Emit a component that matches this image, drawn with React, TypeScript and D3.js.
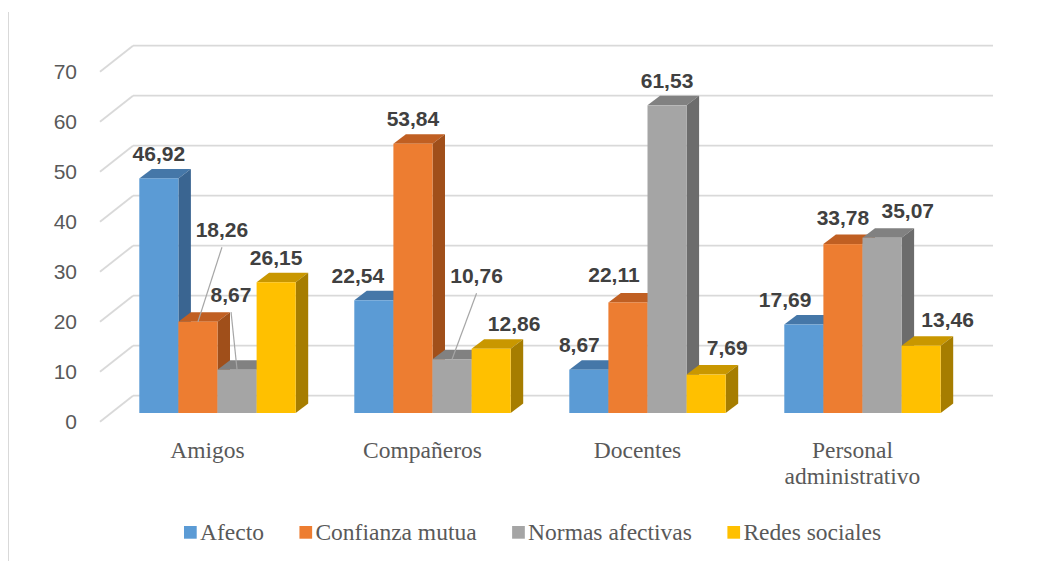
import React, { useMemo } from "react";
import * as d3 from "d3";

const categories = ["Amigos", "Compañeros", "Docentes", "Personal administrativo"];
const seriesNames = ["Afecto", "Confianza mutua", "Normas afectivas", "Redes sociales"];
const afecto = [46.92, 22.54, 8.67, 17.69];
const confianzaMutua = [18.26, 53.84, 22.11, 33.78];
const normasAfectivas = [8.67, 10.76, 61.53, 35.07];
const redesSociales = [26.15, 12.86, 7.69, 13.46];
const yTicks = [0, 10, 20, 30, 40, 50, 60, 70];

const seriesValues = [afecto, confianzaMutua, normasAfectivas, redesSociales];
const colors = ["#5b9bd5", "#ed7d31", "#a5a5a5", "#ffc000"];
const topColors = ["#4577a8", "#c05f22", "#818181", "#c99700"];
const sideColors = ["#3a6591", "#a04f1a", "#6c6c6c", "#a67d00"];

// label nudges [series][category] -> [dx, dy, leader]
const labelNudges: [number, number, boolean][][] = [
  [[0, 0, false], [-16, 0, false], [-9.5, 0, false], [-18.7, 0, false]],
  [[24, -67.5, true], [0, 0, false], [-14, -3, false], [0, -1.5, false]],
  [[-6, -50.5, true], [24.5, -59, true], [0, 0, false], [25.7, -2, false]],
  [[0, 0, false], [23, 0, false], [21, -2, false], [26.5, -1.5, false]],
];

const W = 1041;
const H = 561;
const FRONT_LEFT = 100;
const FRONT_RIGHT = 960;
const WALL_DX = 33;
const WALL_DY = -26;
const BAR_FRONT_DX = 10;
const BAR_FRONT_DY = -8.7;
const BAR_DEPTH_DX = 12.5;
const BAR_DEPTH_DY = -9.5;
const GROUP_W = 156.4;

const sansFont = "'Liberation Sans', Arial, sans-serif";
const serifFont = "'Liberation Serif', 'Times New Roman', 'DejaVu Serif', serif";

function measure(text: string, font: string) {
  if (typeof document === "undefined") return text.length * 10;
  const c = document.createElement("canvas");
  const ctx = c.getContext("2d");
  if (!ctx) return text.length * 10;
  ctx.font = font;
  return ctx.measureText(text).width;
}

export default function App() {
  const y = d3.scaleLinear().domain([0, 70]).range([421.7, 71.7]);
  const x = d3.scaleBand<string>().domain(categories).range([FRONT_LEFT, FRONT_RIGHT]);
  const inner = d3.scaleBand<string>().domain(seriesNames).range([0, GROUP_W]);
  const bw = inner.bandwidth();

  const legend = useMemo(() => {
    const font = `23.5px ${serifFont}`;
    const sw = 12.7;
    const gapText = 3.3;
    const gapItem = 35.5;
    const widths = seriesNames.map((s) => measure(s, font));
    let cx = 184;
    return seriesNames.map((s, i) => {
      const item = { name: s, x: cx, color: colors[i] };
      cx += sw + gapText + widths[i] + gapItem;
      return item;
    });
  }, []);

  const bars: React.ReactNode[] = [];
  const labels: React.ReactNode[] = [];
  categories.forEach((cat, ci) => {
    const x0 = (x(cat) as number) + (x.bandwidth() - GROUP_W) / 2;
    seriesNames.forEach((s, si) => {
      const v = seriesValues[si][ci];
      const lx = x0 + (inner(s) as number) + BAR_FRONT_DX;
      const rx = lx + bw;
      const by = y(0) + BAR_FRONT_DY;
      const ty = y(v) + BAR_FRONT_DY;
      const top = `M${lx},${ty} L${rx},${ty} L${rx + BAR_DEPTH_DX},${ty + BAR_DEPTH_DY} L${lx + BAR_DEPTH_DX},${ty + BAR_DEPTH_DY} Z`;
      const side = `M${rx},${ty} L${rx + BAR_DEPTH_DX},${ty + BAR_DEPTH_DY} L${rx + BAR_DEPTH_DX},${by + BAR_DEPTH_DY} L${rx},${by} Z`;
      bars.push(
        <g key={`${ci}-${si}`}>
          <path d={top} fill={topColors[si]} />
          <path d={side} fill={sideColors[si]} />
          <rect x={lx} y={ty} width={bw} height={by - ty} fill={colors[si]} />
        </g>
      );
      const [ndx, ndy, leader] = labelNudges[si][ci];
      const cxBar = lx + bw / 2;
      const tx = cxBar + ndx;
      const tBase = ty - 17.5 + ndy;
      if (leader) {
        labels.push(
          <line key={`l-${ci}-${si}`} x1={tx} y1={tBase + 10.5} x2={cxBar} y2={ty} stroke="#a6a6a6" strokeWidth={1.2} />
        );
      }
      labels.push(
        <text
          key={`t-${ci}-${si}`}
          x={tx}
          y={tBase}
          textAnchor="middle"
          fontFamily={sansFont}
          fontWeight="bold"
          fontSize={21}
          fill="#404040"
        >
          {v.toFixed(2).replace(".", ",")}
        </text>
      );
    });
  });

  return (
    <svg width={W} height={H} style={{ position: "absolute", left: 0, top: 0, background: "#fff" }}>
      <rect x={0} y={0} width={W} height={H} fill="#fff" />
      <line x1={8.5} y1={12} x2={8.5} y2={H} stroke="#d9d9d9" strokeWidth={1} />
      {yTicks.map((t) => (
        <g key={t}>
          <line x1={FRONT_LEFT} y1={y(t)} x2={FRONT_LEFT + WALL_DX} y2={y(t) + WALL_DY} stroke="#d9d9d9" strokeWidth={1.8} />
          <line
            x1={FRONT_LEFT + WALL_DX}
            y1={y(t) + WALL_DY}
            x2={FRONT_RIGHT + WALL_DX}
            y2={y(t) + WALL_DY}
            stroke="#d9d9d9"
            strokeWidth={1.8}
          />
          <text x={77} y={y(t) + 7.5} textAnchor="end" fontFamily={sansFont} fontSize={21} fill="#595959">
            {t}
          </text>
        </g>
      ))}
      {bars}
      {labels}
      {categories.map((cat) => {
        const cx = (x(cat) as number) + x.bandwidth() / 2;
        const words = cat === "Personal administrativo" ? ["Personal", "administrativo"] : [cat];
        return (
          <text key={cat} x={cx} y={457.5} textAnchor="middle" fontFamily={serifFont} fontSize={23.5} fill="#595959">
            {words.map((w, i) => (
              <tspan key={w} x={cx} dy={i === 0 ? 0 : 26.3}>
                {w}
              </tspan>
            ))}
          </text>
        );
      })}
      {legend.map((l) => (
        <g key={l.name}>
          <rect x={l.x} y={526} width={12.7} height={12.7} fill={l.color} />
          <text x={l.x + 16} y={540} fontFamily={serifFont} fontSize={23.5} fill="#595959">
            {l.name}
          </text>
        </g>
      ))}
    </svg>
  );
}
